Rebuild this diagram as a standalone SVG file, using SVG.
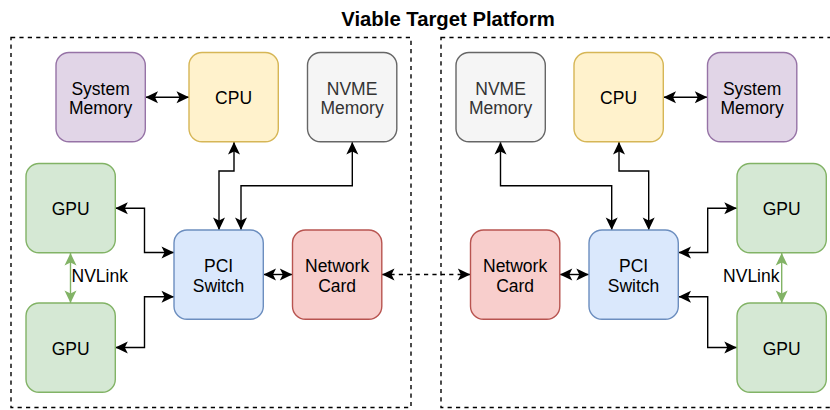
<svg xmlns="http://www.w3.org/2000/svg" width="830" height="410" viewBox="0 0 830 410">
  <defs>
    <marker id="arr" viewBox="-13 -7 14 14" refX="0" refY="0" markerWidth="14" markerHeight="14" markerUnits="userSpaceOnUse" orient="auto-start-reverse">
      <path d="M0,0 L-12.5,-6 L-9.5,0 L-12.5,6 Z" fill="#000"/>
    </marker>
    <marker id="arrg" viewBox="-13 -7 14 14" refX="0" refY="0" markerWidth="14" markerHeight="14" markerUnits="userSpaceOnUse" orient="auto-start-reverse">
      <path d="M0,0 L-12.5,-6 L-9.5,0 L-12.5,6 Z" fill="#82b366"/>
    </marker>
  </defs>
  <style>
    text { font-family: "Liberation Sans", Arial, Helvetica, sans-serif; font-size: 17.5px; fill: #000; text-anchor: middle; }
    .title { font-size: 20.3px; font-weight: bold; }
    .frame { fill: none; stroke: #000; stroke-width: 1.4; stroke-dasharray: 4.2 4.2; }
    .node rect { stroke-width: 1.4; }
    .mem rect { fill: #e1d5e7; stroke: #9673a6; }
    .cpu rect { fill: #fff2cc; stroke: #d6b656; }
    .nvme rect { fill: #f5f5f5; stroke: #666666; }
    .nvme text { fill: #333333; }
    .gpu rect { fill: #d5e8d4; stroke: #82b366; }
    .pci rect { fill: #dae8fc; stroke: #6c8ebf; }
    .net rect { fill: #f8cecc; stroke: #b85450; }
    .edge { fill: none; stroke: #000; stroke-width: 1.4; marker-start: url(#arr); marker-end: url(#arr); }
    .dash { stroke-dasharray: 4.2 4.2; }
    .nvlink { fill: none; stroke: #82b366; stroke-width: 1.4; marker-start: url(#arrg); marker-end: url(#arrg); }
    .lbl-start { text-anchor: start; }
    .lbl-end { text-anchor: end; }
  </style>

  <rect width="830" height="410" fill="#ffffff"/>

  <text class="title" x="448" y="25.5">Viable Target Platform</text>

  <!-- platform frames -->
  <rect id="platform-left" class="frame" x="11" y="37.5" width="400" height="370"/>
  <rect id="platform-right" class="frame" x="441" y="37.5" width="400" height="370"/>

  <!-- connectors -->
  <g id="connectors">
    <path class="edge" d="M145.5,97.2 H189"/>
    <path class="edge" d="M234,142 V171 H219 V230"/>
    <path class="edge" d="M352.3,142 V185.7 H241 V230"/>
    <path class="edge" d="M115.3,208.3 H144.5 V252.5 H174"/>
    <path class="edge" d="M115.3,347.5 H144.5 V296.7 H174"/>
    <path class="edge" d="M263.5,274.5 H292.3"/>
    <path class="edge dash" d="M382,274.5 H470.3"/>
    <path class="nvlink" d="M70.5,253 V303"/>

    <path class="edge" d="M663.5,97.2 H707.3"/>
    <path class="edge" d="M619,142 V171 H648.7 V230"/>
    <path class="edge" d="M500.5,142 V185.7 H611.7 V230"/>
    <path class="edge" d="M678.5,252.5 H707.7 V208.3 H736.8"/>
    <path class="edge" d="M678.5,296.7 H707.7 V347.5 H736.8"/>
    <path class="edge" d="M559.8,274.5 H588.8"/>
    <path class="nvlink" d="M781.7,253 V303"/>

    <text class="lbl-start" x="71.5" y="282.3">NVLink</text>
    <text class="lbl-end" x="779.5" y="282.3">NVLink</text>
  </g>

  <!-- left platform nodes -->
  <g id="sysmem-left" class="node mem">
    <rect x="56" y="52.5" width="89.3" height="89.3" rx="13"/>
    <text x="100.6" y="94.5">System</text>
    <text x="100.6" y="114.2">Memory</text>
  </g>
  <g id="cpu-left" class="node cpu">
    <rect x="189" y="52.5" width="89.3" height="89.3" rx="13"/>
    <text x="233.6" y="104.2">CPU</text>
  </g>
  <g id="nvme-left" class="node nvme">
    <rect x="307.5" y="52.5" width="89.3" height="89.3" rx="13"/>
    <text x="352.1" y="94.5">NVME</text>
    <text x="352.1" y="114.2">Memory</text>
  </g>
  <g id="gpu-top-left" class="node gpu">
    <rect x="26" y="163.5" width="89.3" height="89.3" rx="13"/>
    <text x="70.6" y="215">GPU</text>
  </g>
  <g id="gpu-bottom-left" class="node gpu">
    <rect x="26" y="303" width="89.3" height="89.3" rx="13"/>
    <text x="70.6" y="354.5">GPU</text>
  </g>
  <g id="pci-left" class="node pci">
    <rect x="174" y="230" width="89.3" height="89.3" rx="13"/>
    <text x="218.6" y="271.8">PCI</text>
    <text x="218.6" y="291.5">Switch</text>
  </g>
  <g id="net-left" class="node net">
    <rect x="292.5" y="230" width="89.3" height="89.3" rx="13"/>
    <text x="337.1" y="271.8">Network</text>
    <text x="337.1" y="291.5">Card</text>
  </g>

  <!-- right platform nodes -->
  <g id="nvme-right" class="node nvme">
    <rect x="456" y="52.5" width="89.3" height="89.3" rx="13"/>
    <text x="500.6" y="94.5">NVME</text>
    <text x="500.6" y="114.2">Memory</text>
  </g>
  <g id="cpu-right" class="node cpu">
    <rect x="574" y="52.5" width="89.3" height="89.3" rx="13"/>
    <text x="618.6" y="104.2">CPU</text>
  </g>
  <g id="sysmem-right" class="node mem">
    <rect x="707.5" y="52.5" width="89.3" height="89.3" rx="13"/>
    <text x="752.1" y="94.5">System</text>
    <text x="752.1" y="114.2">Memory</text>
  </g>
  <g id="net-right" class="node net">
    <rect x="470.5" y="230" width="89.3" height="89.3" rx="13"/>
    <text x="515.1" y="271.8">Network</text>
    <text x="515.1" y="291.5">Card</text>
  </g>
  <g id="pci-right" class="node pci">
    <rect x="589" y="230" width="89.3" height="89.3" rx="13"/>
    <text x="633.6" y="271.8">PCI</text>
    <text x="633.6" y="291.5">Switch</text>
  </g>
  <g id="gpu-top-right" class="node gpu">
    <rect x="737" y="163.5" width="89.3" height="89.3" rx="13"/>
    <text x="781.6" y="215">GPU</text>
  </g>
  <g id="gpu-bottom-right" class="node gpu">
    <rect x="737" y="303" width="89.3" height="89.3" rx="13"/>
    <text x="781.6" y="354.5">GPU</text>
  </g>
</svg>
